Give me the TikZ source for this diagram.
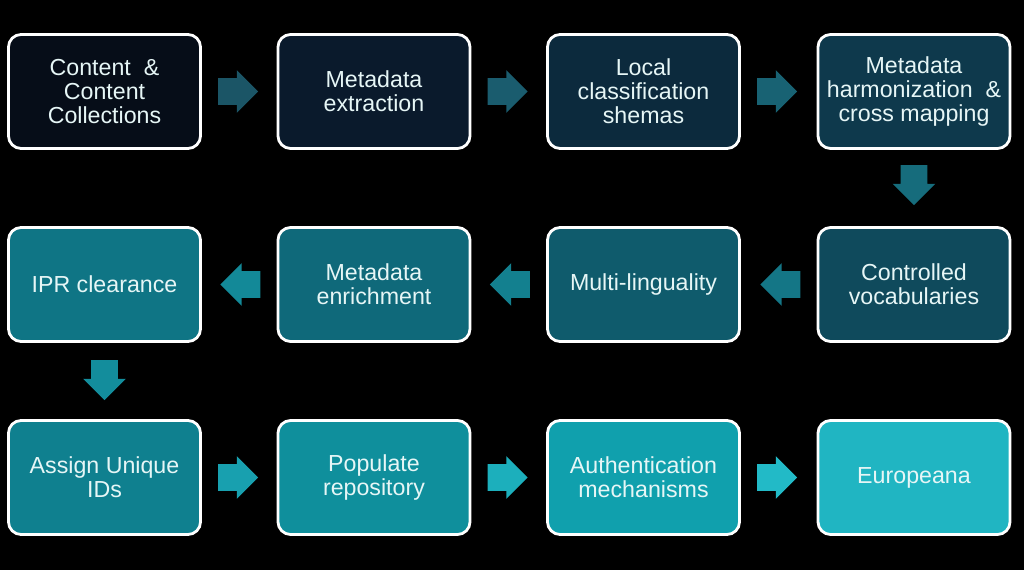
\documentclass[tikz,border=0pt]{standalone}
\usepackage{fontspec}
\setmainfont{Liberation Sans}
\usepackage{xcolor}
\usepackage{tikz}
\usetikzlibrary{
  positioning,
  shapes.arrows,
  calc
}
\definecolor{txtcol}{HTML}{E6F6F6}
% stage fills
\definecolor{s1}{HTML}{060D18}
\definecolor{s2}{HTML}{0A1A2C}
\definecolor{s3}{HTML}{0C2A3D}
\definecolor{s4}{HTML}{0E394C}
\definecolor{s5}{HTML}{0F4A5C}
\definecolor{s6}{HTML}{0F5B6C}
\definecolor{s7}{HTML}{0F697A}
\definecolor{s8}{HTML}{0F7585}
\definecolor{s9}{HTML}{0F808F}
\definecolor{s10}{HTML}{0F8F9C}
\definecolor{s11}{HTML}{10A0AD}
\definecolor{s12}{HTML}{20B5C2}
% arrow fills
\definecolor{a1}{HTML}{1B5566}
\definecolor{a2}{HTML}{1A5C6E}
\definecolor{a3}{HTML}{186273}
\definecolor{a4}{HTML}{166C7C}
\definecolor{a5}{HTML}{147686}
\definecolor{a6}{HTML}{13808F}
\definecolor{a7}{HTML}{138998}
\definecolor{a8}{HTML}{138D9C}
\definecolor{a9}{HTML}{18A0AF}
\definecolor{a10}{HTML}{1CAFBC}
\definecolor{a11}{HTML}{22BAC7}

\begin{document}
\begin{tikzpicture}[
    x=0.025cm, y=-0.025cm,
    stage/.style={draw=white, line width=2pt, rounded corners=9pt, fill=#1,
      minimum width=4.8cm, minimum height=2.85cm, align=center,
      text=txtcol, font=\fontsize{16.5}{17}\selectfont},
    blockarr/.style={single arrow, draw=none, fill=#1, anchor=tail,
      inner xsep=0pt, inner ysep=0.325cm,
      minimum width=1.05cm, minimum height=1cm,
      single arrow head extend=0.2cm},
    vblockarr/.style={blockarr=#1, shape border rotate=270,
      inner xsep=0.325cm, inner ysep=0pt}
]
    % background
    \fill[black] (0,0) rectangle (1024,570);

    % first row
    \node[stage=s1] (content) at (104.5,91.5) {Content \ \&\\Content\\Collections};
    \node[stage=s2] (extract) at (374,91.5) {Metadata\\extraction};
    \node[stage=s3] (local) at (643.5,91.5) {Local\\classification\\shemas};
    \node[stage=s4] (harmon) at (914,91.5) {Metadata\\harmonization \ \&\\cross mapping};

    % second row
    \node[stage=s5] (vocab) at (914,284.5) {Controlled\\vocabularies};
    \node[stage=s6] (multi) at (643.5,284.5) {Multi-linguality};
    \node[stage=s7] (enrich) at (374,284.5) {Metadata\\enrichment};
    \node[stage=s8] (ipr) at (104.5,284.5) {IPR clearance};

    % third row
    \node[stage=s9] (assign) at (104.5,477.5) {Assign Unique\\IDs};
    \node[stage=s10] (populate) at (374,477.5) {Populate\\repository};
    \node[stage=s11] (auth) at (643.5,477.5) {Authentication\\mechanisms};
    \node[stage=s12] (europeana) at (914,477.5) {Europeana};

    % block arrows
    \node[blockarr=a1] at ($(content.east)+(16,0)$) {};
    \node[blockarr=a2] at ($(extract.east)+(16,0)$) {};
    \node[blockarr=a3] at ($(local.east)+(16,0)$) {};
    \node[vblockarr=a4] at ($(harmon.south)+(0,15)$) {};
    \node[blockarr=a5, shape border rotate=180] at ($(vocab.west)+(-16,0)$) {};
    \node[blockarr=a6, shape border rotate=180] at ($(multi.west)+(-16,0)$) {};
    \node[blockarr=a7, shape border rotate=180] at ($(enrich.west)+(-16,0)$) {};
    \node[vblockarr=a8] at ($(ipr.south)+(0,17)$) {};
    \node[blockarr=a9] at ($(assign.east)+(16,0)$) {};
    \node[blockarr=a10] at ($(populate.east)+(16,0)$) {};
    \node[blockarr=a11] at ($(auth.east)+(16,0)$) {};
\end{tikzpicture}
\end{document}
